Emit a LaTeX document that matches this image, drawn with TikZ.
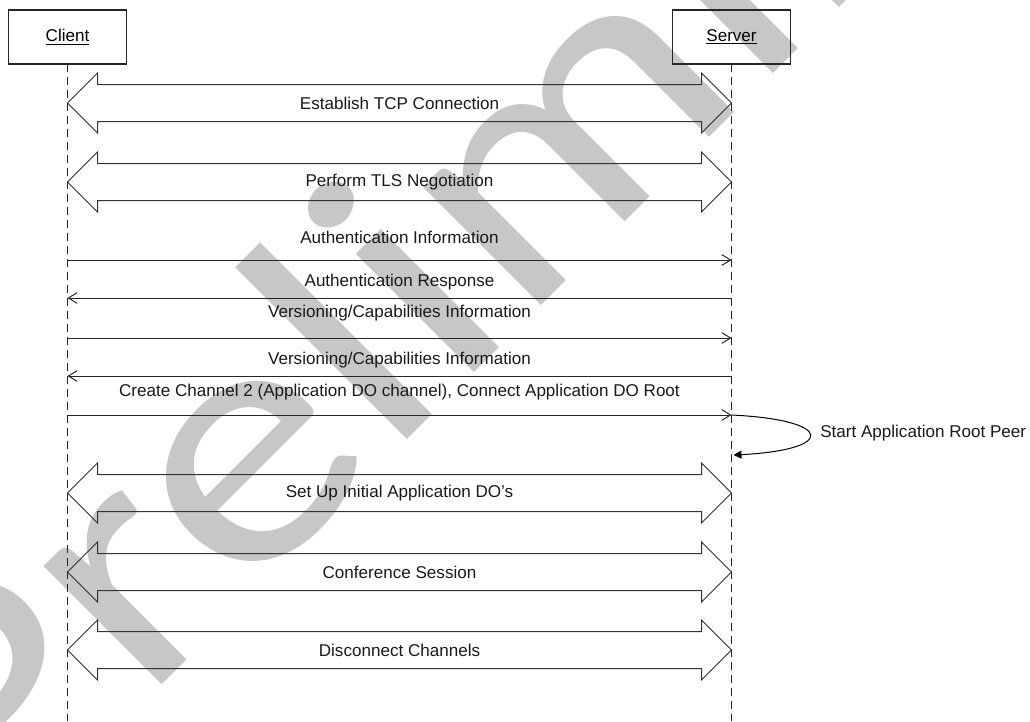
\documentclass[tikz,border=0pt]{standalone}
\usepackage{graphicx}
\usepackage{fontspec}
\setmainfont{Liberation Sans}
\newfontfamily\wmfont{Carlito}
\usetikzlibrary{arrows.meta,calc}
\tikzset{
  actor/.style={draw=black!85, line width=0.8pt, minimum width=88.5pt, minimum height=40.5pt, inner sep=0pt, outer sep=0pt, font=\fontsize{12.8pt}{15pt}\selectfont},
  life/.style={draw=black!85, line width=0.75pt, dash pattern=on 6pt off 3.75pt},
  bigarrow/.style={draw=black!80, line width=0.75pt, line join=miter},
  msg/.style={draw=black!85, line width=0.75pt, -{Straight Barb[length=6.5pt,width=8pt]}},
  self/.style={draw=black, line width=0.75pt, -{Triangle[length=6pt,width=6pt]}},
  lbl/.style={inner sep=0pt, text=black!90, font=\fontsize{12.8pt}{15pt}\selectfont},
  wm/.style={inner sep=0pt, text=black!22, font=\wmfont\fontsize{262.5pt}{280pt}\selectfont}
}
\newcommand\dblarrow[3]{%
  \path (client |- 0,#2) coordinate (#1L) (server |- 0,#2) coordinate (#1R);
  \draw[bigarrow] (#1L) -- ++(30,-30) -- ++(0,11.5) -- ($(#1R)+(-30,-18.5)$) -- ++(0,-11.5) -- (#1R)
     -- ++(-30,30) -- ++(0,-11.5) -- ($(#1L)+(30,18.5)$) -- ++(0,11.5) -- cycle;
  \node[lbl] (#1T) at ($(#1L)!0.5!(#1R)$) {#3};
}
\begin{document}
\begin{tikzpicture}[x=0.75pt,y=-0.75pt]
\useasboundingbox (0,0) rectangle (1030,721);
% watermark
\begin{scope}
  \clip (0,0) rectangle (1030,721);
  \node[wm, rotate=45, anchor=base west] (wmark) at (-7,854) {\scalebox{1.177}[1]{Preliminary}};
\end{scope}
% actors
\node[actor] (client) at (67.5,37) {\underline{Client}};
\node[actor] (server) at (731.5,37) {\underline{Server}};
\draw[life] (client.south) -- (client.south |- 0,721);
\draw[life] (server.south) -- (server.south |- 0,721);
% block arrows
\dblarrow{tcp}{103}{Establish TCP Connection}
\dblarrow{tls}{182}{Perform TLS Negotiation}
% messages
\node[lbl] (m1) at ($(client |- 0,237)!0.5!(server |- 0,237)$) {Authentication Information};
\draw[msg] (client |- 0,260) -- (server |- 0,260);
\node[lbl] (m2) at ($(client |- 0,282)!0.5!(server |- 0,282)$) {Authentication Response};
\draw[msg] (server |- 0,298) -- (client |- 0,298);
\node[lbl] (m3) at ($(client |- 0,313)!0.5!(server |- 0,313)$) {Versioning/Capabilities Information};
\draw[msg] (client |- 0,338) -- (server |- 0,338);
\node[lbl] (m4) at ($(client |- 0,360)!0.5!(server |- 0,360)$) {Versioning/Capabilities Information};
\draw[msg] (server |- 0,376) -- (client |- 0,376);
\node[lbl] (m5) at ($(client |- 0,392)!0.5!(server |- 0,392)$) {Create Channel 2 (Application DO channel), Connect Application DO Root};
\draw[msg] (client |- 0,415) -- (server |- 0,415);
% self message
\path (server |- 0,415) coordinate (selfA) (server |- 0,455) coordinate (selfB);
\draw[self] (selfA) .. controls ($(selfA)+(104,5)$) and ($(selfB)+(104,-5)$) .. ($(selfB)+(2,0)$);
\node[lbl, anchor=west] (selflbl) at (820,433) {Start Application Root Peer};
% block arrows
\dblarrow{setup}{493}{Set Up Initial Application DO's}
\dblarrow{conf}{572}{Conference Session}
\dblarrow{disc}{650}{Disconnect Channels}
\end{tikzpicture}
\end{document}
